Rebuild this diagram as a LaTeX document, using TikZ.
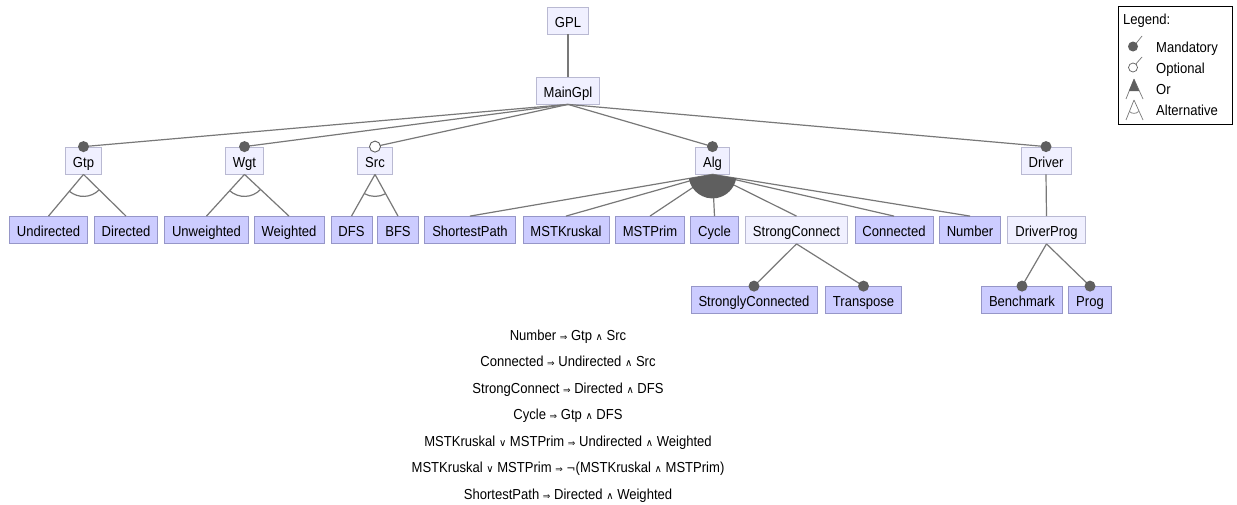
\documentclass[tikz,border=0pt]{standalone}
\usepackage{fontspec}
\setmainfont{Liberation Sans}[FakeStretch=0.9]
\newfontfamily\symfont{DejaVu Sans}
\usetikzlibrary{calc}
\definecolor{concfill}{RGB}{204,204,255}
\definecolor{concborder}{RGB}{150,150,200}
\definecolor{absfill}{RGB}{240,240,255}
\definecolor{absborder}{RGB}{185,185,210}
\definecolor{edgegray}{RGB}{120,120,120}
\definecolor{dotgray}{RGB}{95,95,95}
\newcommand{\imp}{{\symfont\fontsize{9}{10}\selectfont ⇒}}
\newcommand{\wedgeop}{{\symfont\fontsize{10}{10}\selectfont ∧}}
\newcommand{\veeop}{{\symfont\fontsize{10}{10}\selectfont ∨}}
\newcommand{\negop}{{\symfont\fontsize{11}{10}\selectfont ¬}}
\newcommand{\altarc}[3]{%
  \draw[edge] let \p1=($(#2.north)-(#1.south)$), \p2=($(#3.north)-(#1.south)$),
    \n1={atan2(\y1,\x1)}, \n2={atan2(\y2,\x2)} in
    ($(#1.south)+(\n1:22pt)$) arc[start angle=\n1, end angle=\n2, radius=22pt];}
\newcommand{\orfill}[3]{%
  \fill[dotgray] let \p1=($(#2.north)-(#1.south)$), \p2=($(#3.north)-(#1.south)$),
    \n1={atan2(\y1,\x1)}, \n2={atan2(\y2,\x2)} in
    (#1.south) -- ($(#1.south)+(\n1:24pt)$) arc[start angle=\n1, end angle=\n2, radius=24pt] -- cycle;}
\begin{document}
\begin{tikzpicture}[x=1pt,y=1pt,
  font=\fontsize{14.5}{17}\selectfont,
  feat/.style={draw=concborder, fill=concfill, line width=0.8pt, minimum height=27pt, inner xsep=7.5pt, inner ysep=0pt, text height=13pt, text depth=0pt},
  abs/.style={feat, draw=absborder, fill=absfill},
  edge/.style={draw=edgegray, line width=1.2pt},
  mand/.style={fill=dotgray},
  opt/.style={draw=dotgray, fill=white, line width=0.9pt},
  txt/.style={inner sep=0pt, anchor=base}]
\useasboundingbox (0,0) rectangle (1237,-504);
\fill[white] (0,0) rectangle (1237,-504);

% nodes
\node[abs] (gpl) at (568,-20.5) {GPL};
\node[abs] (main) at (568,-90.5) {MainGpl};
\node[abs] (gtp) at (83.5,-160.5) {Gtp};
\node[abs] (wgt) at (244.5,-160.5) {Wgt};
\node[abs] (src) at (375,-160.5) {Src};
\node[abs] (alg) at (712.5,-160.5) {Alg};
\node[abs] (driver) at (1046,-160.5) {Driver};

\node[feat] (undir) at (48.5,-230) {Undirected};
\node[feat] (dir) at (126,-230) {Directed};
\node[feat] (unw) at (206.5,-230) {Unweighted};
\node[feat] (wtd) at (289,-230) {Weighted};
\node[feat] (dfs) at (351.5,-230) {DFS};
\node[feat] (bfs) at (398,-230) {BFS};
\node[feat] (sp) at (470,-230) {ShortestPath};
\node[feat] (kru) at (566,-230) {MSTKruskal};
\node[feat] (prim) at (650,-230) {MSTPrim};
\node[feat] (cyc) at (714.5,-230) {Cycle};
\node[abs] (sc) at (796.5,-230) {StrongConnect};
\node[feat] (conn) at (894,-230) {Connected};
\node[feat] (num) at (970,-230) {Number};
\node[abs] (dprog) at (1046.5,-230) {DriverProg};

\node[feat] (scon) at (754,-300) {StronglyConnected};
\node[feat] (trans) at (863.5,-300) {Transpose};
\node[feat] (bench) at (1022,-300) {Benchmark};
\node[feat] (prog) at (1090,-300) {Prog};

% edges
\draw[edge] (gpl.south) -- (main.north);
\foreach \c in {gtp,wgt,src,alg,driver} \draw[edge] (main.south) -- (\c.north);
\foreach \c in {undir,dir} \draw[edge] (gtp.south) -- (\c.north);
\foreach \c in {unw,wtd} \draw[edge] (wgt.south) -- (\c.north);
\foreach \c in {dfs,bfs} \draw[edge] (src.south) -- (\c.north);
\foreach \c in {sp,kru,prim,cyc,sc,conn,num} \draw[edge] (alg.south) -- (\c.north);
\draw[edge] (driver.south) -- (dprog.north);
\foreach \c in {scon,trans} \draw[edge] (sc.south) -- (\c.north);
\foreach \c in {bench,prog} \draw[edge] (dprog.south) -- (\c.north);

% group markers
\altarc{gtp}{undir}{dir}
\altarc{wgt}{unw}{wtd}
\altarc{src}{dfs}{bfs}
\orfill{alg}{sp}{num}

% mandatory / optional markers
\foreach \c in {gtp,wgt,alg,driver,scon,trans,bench,prog}
  \fill[mand] (\c.north) circle[radius=5.5pt];
\draw[opt] (src.north) circle[radius=5.5pt];

% constraints
\node[txt] (c1) at (568,-340) {Number \imp{} Gtp \wedgeop{} Src};
\node[txt] (c2) at (568,-366.5) {Connected \imp{} Undirected \wedgeop{} Src};
\node[txt] (c3) at (568,-393) {StrongConnect \imp{} Directed \wedgeop{} DFS};
\node[txt] (c4) at (568,-419.5) {Cycle \imp{} Gtp \wedgeop{} DFS};
\node[txt] (c5) at (568,-446) {MSTKruskal \veeop{} MSTPrim \imp{} Undirected \wedgeop{} Weighted};
\node[txt] (c6) at (568,-472.5) {MSTKruskal \veeop{} MSTPrim \imp{} \negop(MSTKruskal \wedgeop{} MSTPrim)};
\node[txt] (c7) at (568,-499) {ShortestPath \imp{} Directed \wedgeop{} Weighted};

% legend
\node[draw=black, line width=1pt, minimum width=114pt, minimum height=118pt, anchor=north west, inner sep=0pt] (legend) at (1118,-6) {};
\node[txt, anchor=base west] (lt) at (1123,-24) {Legend:};
\node[txt, anchor=base west] (lm) at (1156,-52) {Mandatory};
\node[txt, anchor=base west] (lo) at (1156,-73) {Optional};
\node[txt, anchor=base west] (lr) at (1156,-94) {Or};
\node[txt, anchor=base west] (la) at (1156,-115) {Alternative};
% mandatory symbol
\draw[edge, line width=0.7pt] (1134,-46) -- (1142,-36);
\fill[mand] (1133,-46.5) circle[radius=5pt];
% optional symbol
\draw[edge, line width=0.7pt] (1135,-65) -- (1142,-57);
\draw[opt, line width=0.7pt] (1133,-67.5) circle[radius=4.5pt];
% or symbol
\draw[edge, line width=0.7pt] (1134,-79) -- (1126,-99) (1134,-79) -- (1143,-99);
\fill[dotgray] (1134,-79) -- (1128.8,-91) -- (1139.2,-91) -- cycle;
% alternative symbol
\draw[edge, line width=0.7pt] (1134,-100) -- (1126,-120) (1134,-100) -- (1143,-120);
\draw[edge, line width=0.7pt] (1129.4,-111.5) .. controls (1132,-114) and (1136,-114) .. (1138.6,-111.5);
\end{tikzpicture}
\end{document}
